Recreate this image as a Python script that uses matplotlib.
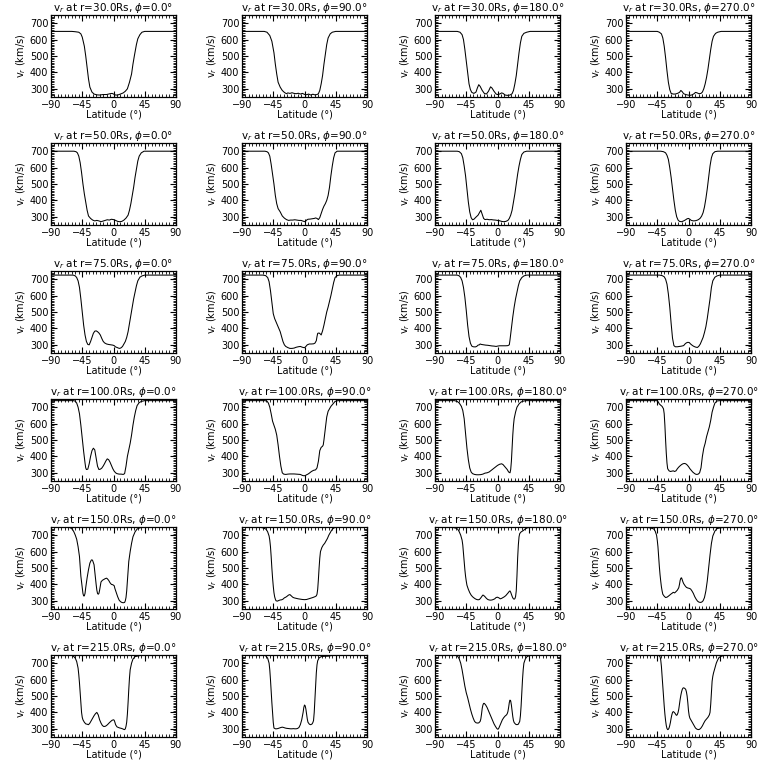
import matplotlib
matplotlib.use("Agg")
import matplotlib.pyplot as plt
from matplotlib.ticker import MultipleLocator

radii = [30.0, 50.0, 75.0, 100.0, 150.0, 215.0]
phis = [0.0, 90.0, 180.0, 270.0]

# r = 30 Rs
lat_30_0 = [-90, -60, -55, -50, -47, -45, -42, -40, -38, -36, -34, -31, -28, -24, -20, -15, -10, -5, -2, 0, 3, 6, 10, 14, 17, 20, 23, 26, 28, 30, 33, 35, 38, 41, 45, 60, 90]
v_30_0 = [650, 650, 648, 645, 635, 615, 560, 500, 430, 360, 310, 280, 268, 263, 262, 265, 265, 270, 272, 268, 262, 262, 268, 275, 285, 300, 340, 390, 450, 500, 570, 605, 630, 645, 650, 650, 650]
lat_30_90 = [-90, -58, -54, -50, -47, -44, -42, -40, -38, -35, -32, -29, -26, -24, -21, -18, -15, -12, -9, -6, -3, 0, 3, 6, 9, 12, 15, 18, 20, 22, 24, 26, 28, 30, 32, 34, 37, 40, 45, 90]
v_30_90 = [650, 650, 645, 625, 590, 520, 450, 390, 340, 310, 290, 278, 270, 275, 272, 276, 272, 270, 273, 268, 272, 266, 264, 268, 262, 267, 263, 265, 270, 290, 330, 380, 450, 510, 570, 610, 635, 645, 650, 650]
lat_30_180 = [-90, -58, -54, -51, -49, -47, -45, -43, -41, -39, -37, -34, -31, -29, -27, -25, -22, -19, -16, -13, -10, -8, -5, -2, 0, 3, 6, 8, 11, 14, 18, 21, 23, 25, 27, 29, 31, 33, 35, 38, 42, 47, 90]
v_30_180 = [650, 650, 645, 630, 600, 540, 470, 400, 330, 295, 278, 272, 280, 305, 325, 315, 290, 272, 268, 285, 312, 305, 285, 268, 265, 268, 275, 272, 262, 260, 262, 270, 290, 330, 380, 450, 520, 580, 620, 638, 645, 650, 650]
lat_30_270 = [-90, -45, -42, -39, -37, -35, -33, -31, -29, -27, -25, -22, -19, -16, -13, -11, -9, -7, -4, -1, 2, 5, 8, 10, 12, 15, 18, 20, 22, 24, 26, 28, 30, 32, 34, 36, 39, 42, 47, 90]
v_30_270 = [650, 650, 645, 635, 610, 560, 490, 410, 340, 295, 272, 268, 268, 272, 278, 290, 282, 270, 265, 262, 260, 263, 270, 278, 276, 270, 272, 280, 300, 330, 370, 420, 480, 540, 590, 620, 638, 645, 650, 650]

# r = 50 Rs
lat_50_0 = [-90, -57, -54, -52, -50, -48, -46, -44, -42, -40, -38, -36, -33, -30, -27, -24, -21, -18, -15, -12, -9, -6, -3, 0, 3, 6, 9, 12, 15, 18, 21, 23, 25, 27, 29, 31, 33, 35, 37, 40, 44, 90]
v_50_0 = [700, 700, 697, 690, 670, 630, 570, 500, 440, 390, 340, 305, 290, 280, 275, 278, 275, 270, 274, 278, 282, 280, 285, 283, 278, 272, 270, 272, 280, 292, 310, 340, 380, 430, 480, 540, 590, 640, 670, 690, 700, 700]
lat_50_90 = [-90, -57, -54, -52, -50, -48, -46, -44, -42, -40, -38, -35, -32, -29, -26, -23, -20, -17, -14, -11, -8, -5, -3, -1, 1, 3, 5, 8, 11, 14, 16, 18, 20, 22, 24, 26, 28, 30, 32, 34, 36, 38, 40, 42, 44, 47, 90]
v_50_90 = [700, 700, 697, 690, 670, 620, 560, 500, 430, 380, 350, 330, 305, 292, 283, 278, 280, 280, 282, 280, 278, 278, 275, 272, 270, 280, 285, 286, 288, 290, 293, 290, 283, 295, 320, 345, 365, 380, 400, 430, 480, 550, 610, 660, 690, 700, 700]
lat_50_180 = [-90, -58, -55, -52, -50, -48, -46, -44, -42, -40, -38, -36, -34, -31, -28, -26, -24, -22, -20, -18, -15, -12, -9, -6, -3, 0, 3, 6, 9, 12, 15, 17, 19, 21, 23, 25, 27, 29, 31, 33, 35, 38, 42, 90]
v_50_180 = [700, 700, 697, 685, 660, 610, 550, 470, 390, 330, 295, 282, 285, 298, 310, 325, 340, 315, 290, 283, 285, 282, 283, 281, 280, 278, 276, 272, 270, 272, 278, 290, 310, 340, 390, 440, 500, 560, 610, 650, 680, 695, 700, 700]
lat_50_270 = [-90, -40, -36, -33, -31, -29, -27, -25, -23, -21, -19, -17, -15, -13, -10, -7, -4, -2, 0, 2, 4, 7, 10, 13, 15, 17, 19, 21, 23, 25, 27, 29, 31, 33, 35, 38, 42, 90]
v_50_270 = [700, 700, 697, 690, 675, 650, 600, 540, 470, 400, 340, 300, 280, 272, 270, 275, 282, 288, 290, 285, 278, 275, 276, 280, 285, 292, 305, 325, 360, 410, 470, 540, 610, 660, 685, 697, 700, 700]

# r = 75 Rs
lat_75_0 = [-90, -58, -55, -53, -51, -49, -47, -45, -43, -41, -39, -37, -35, -33, -31, -29, -27, -25, -23, -21, -19, -17, -15, -13, -10, -7, -4, -1, 1, 3, 5, 7, 9, 11, 13, 15, 17, 19, 21, 23, 25, 27, 29, 31, 33, 35, 38, 41, 45, 90]
v_75_0 = [725, 725, 720, 710, 690, 650, 580, 500, 420, 360, 320, 302, 300, 320, 345, 370, 383, 385, 380, 372, 360, 340, 322, 312, 305, 302, 300, 298, 295, 287, 284, 280, 278, 282, 290, 305, 320, 345, 380, 430, 480, 530, 580, 620, 660, 690, 712, 720, 725, 725]
lat_75_90 = [-90, -60, -56, -53, -51, -49, -47, -45, -43, -41, -39, -37, -35, -33, -31, -29, -27, -24, -21, -18, -15, -12, -9, -6, -3, 0, 2, 4, 7, 10, 13, 15, 17, 18, 19, 21, 23, 24, 26, 28, 30, 32, 34, 36, 38, 40, 42, 44, 47, 50, 90]
v_75_90 = [725, 725, 722, 710, 685, 630, 560, 490, 460, 440, 420, 400, 380, 350, 320, 300, 290, 283, 278, 278, 280, 285, 288, 290, 285, 282, 290, 300, 305, 305, 306, 310, 325, 350, 370, 372, 365, 360, 385, 420, 460, 500, 530, 565, 600, 640, 680, 710, 722, 725, 725]
lat_75_180 = [-90, -58, -55, -53, -51, -49, -47, -45, -43, -41, -39, -37, -35, -32, -30, -28, -26, -25, -23, -20, -17, -14, -11, -8, -5, -2, 0, 3, 6, 9, 12, 15, 17, 18, 20, 22, 24, 26, 28, 30, 32, 35, 38, 42, 90]
v_75_180 = [725, 725, 720, 710, 690, 650, 590, 510, 420, 350, 310, 292, 288, 287, 290, 298, 300, 305, 302, 300, 298, 297, 295, 293, 292, 290, 292, 294, 294, 294, 294, 295, 300, 330, 400, 470, 530, 580, 620, 660, 690, 710, 720, 725, 725]
lat_75_270 = [-90, -42, -38, -35, -33, -31, -29, -27, -25, -23, -21, -19, -16, -13, -10, -7, -5, -3, -1, 1, 3, 5, 7, 9, 11, 13, 15, 17, 19, 21, 23, 25, 27, 29, 31, 33, 35, 38, 41, 45, 90]
v_75_270 = [725, 725, 722, 715, 700, 670, 610, 530, 430, 340, 295, 288, 288, 290, 292, 295, 305, 312, 315, 314, 305, 298, 292, 288, 285, 284, 292, 305, 325, 345, 375, 410, 460, 520, 580, 650, 690, 712, 720, 725, 725]

# r = 100 Rs
lat_100_0 = [-90, -58, -55, -53, -51, -49, -47, -45, -43, -41, -40, -39, -37, -35, -33, -31, -29, -27, -25, -23, -21, -19, -17, -15, -13, -11, -9, -7, -5, -3, -1, 1, 3, 5, 8, 11, 14, 16, 18, 20, 22, 24, 26, 28, 30, 32, 34, 37, 40, 45, 90]
v_100_0 = [740, 740, 737, 725, 700, 660, 590, 510, 430, 360, 330, 320, 322, 355, 400, 435, 450, 440, 390, 340, 320, 322, 328, 340, 355, 372, 385, 380, 365, 345, 325, 310, 300, 295, 292, 292, 290, 295, 340, 400, 440, 480, 530, 590, 640, 680, 710, 728, 735, 740, 740]
lat_100_90 = [-90, -57, -54, -52, -50, -48, -46, -44, -42, -40, -38, -36, -34, -32, -30, -27, -24, -21, -18, -15, -12, -9, -6, -3, -1, 1, 3, 5, 7, 10, 13, 16, 18, 20, 22, 24, 26, 27, 28, 30, 32, 34, 36, 38, 41, 44, 48, 90]
v_100_90 = [740, 740, 737, 725, 700, 660, 615, 590, 565, 530, 470, 400, 340, 300, 292, 290, 292, 293, 293, 293, 292, 291, 290, 284, 282, 283, 288, 292, 298, 308, 315, 318, 330, 370, 435, 455, 462, 470, 500, 570, 640, 675, 690, 705, 720, 735, 740, 740]
lat_100_180 = [-90, -62, -58, -55, -52, -50, -48, -46, -44, -42, -40, -38, -36, -33, -30, -27, -24, -21, -18, -15, -12, -9, -6, -3, 0, 3, 6, 8, 10, 12, 14, 16, 18, 19, 20, 21, 22, 23, 24, 26, 28, 31, 34, 38, 42, 90]
v_100_180 = [740, 740, 735, 725, 705, 680, 630, 540, 450, 380, 330, 305, 295, 290, 288, 288, 289, 292, 298, 300, 305, 315, 325, 335, 345, 352, 355, 350, 340, 330, 320, 305, 300, 320, 370, 450, 530, 590, 630, 670, 700, 720, 732, 738, 740, 740]
lat_100_270 = [-90, -46, -44, -42, -40, -38, -36, -35, -34, -33, -32, -31, -30, -28, -26, -24, -22, -20, -18, -16, -14, -12, -10, -8, -6, -4, -2, 0, 2, 4, 6, 8, 10, 12, 14, 16, 18, 20, 22, 24, 26, 28, 30, 32, 34, 36, 38, 41, 45, 90]
v_100_270 = [740, 740, 735, 720, 712, 705, 690, 660, 590, 500, 420, 360, 325, 312, 308, 310, 312, 308, 312, 325, 335, 343, 350, 355, 357, 355, 348, 338, 325, 315, 305, 298, 292, 290, 292, 300, 330, 400, 450, 480, 520, 550, 580, 620, 670, 700, 725, 738, 740, 740]

# r = 150 Rs
lat_150_0 = [-90, -66, -62, -59, -57, -55, -53, -51, -49, -48, -47, -45, -44, -43, -42, -41, -40, -38, -36, -34, -32, -31, -30, -28, -27, -26, -25, -24, -23, -22, -21, -20, -19, -18, -16, -14, -12, -10, -9, -7, -5, -3, -1, 1, 2, 4, 6, 8, 10, 12, 14, 16, 17, 18, 19, 20, 21, 22, 24, 26, 28, 31, 34, 38, 43, 90]
v_150_0 = [750, 750, 745, 735, 720, 700, 675, 630, 570, 510, 450, 380, 345, 330, 330, 345, 380, 440, 490, 530, 548, 550, 545, 520, 480, 440, 400, 365, 345, 340, 345, 365, 390, 415, 425, 430, 435, 438, 435, 425, 410, 400, 398, 392, 375, 350, 325, 305, 295, 290, 288, 290, 300, 320, 360, 420, 480, 540, 600, 650, 690, 720, 738, 745, 750, 750]
lat_150_90 = [-90, -66, -60, -57, -55, -53, -51, -50, -49, -48, -47, -46, -45, -44, -43, -42, -41, -39, -37, -35, -33, -31, -29, -27, -25, -23, -21, -19, -17, -15, -12, -9, -6, -3, 0, 3, 6, 9, 12, 15, 17, 18, 19, 20, 21, 22, 23, 25, 27, 29, 31, 33, 35, 37, 39, 41, 44, 48, 90]
v_150_90 = [750, 750, 745, 740, 735, 720, 695, 670, 630, 570, 500, 440, 390, 350, 325, 310, 300, 298, 302, 305, 306, 310, 318, 322, 328, 335, 338, 330, 322, 318, 315, 312, 310, 308, 307, 308, 312, 316, 320, 325, 330, 340, 370, 430, 500, 560, 600, 625, 640, 650, 665, 680, 700, 715, 730, 740, 748, 750, 750]
lat_150_180 = [-90, -66, -62, -59, -57, -55, -53, -51, -50, -49, -48, -47, -46, -45, -44, -42, -40, -38, -36, -34, -32, -30, -28, -26, -24, -22, -21, -20, -18, -16, -14, -12, -10, -8, -6, -4, -2, 0, 2, 4, 6, 8, 10, 12, 14, 16, 17, 18, 19, 20, 21, 22, 23, 24, 25, 26, 27, 28, 29, 30, 31, 32, 34, 37, 40, 43, 47, 52, 90]
v_150_180 = [750, 750, 745, 742, 735, 720, 700, 670, 640, 590, 540, 490, 450, 420, 395, 370, 350, 335, 325, 318, 312, 308, 306, 308, 318, 330, 335, 333, 325, 315, 308, 305, 304, 305, 308, 312, 320, 322, 318, 312, 315, 320, 325, 332, 342, 352, 358, 360, 352, 340, 328, 318, 312, 310, 313, 325, 360, 450, 560, 640, 690, 710, 720, 728, 738, 745, 748, 750, 750]
lat_150_270 = [-90, -62, -57, -53, -50, -48, -46, -45, -44, -43, -42, -41, -40, -39, -38, -37, -35, -33, -31, -29, -27, -25, -23, -22, -21, -20, -18, -16, -14, -13, -12, -11, -10, -9, -8, -7, -5, -3, -1, 1, 3, 5, 7, 9, 11, 13, 15, 17, 19, 21, 23, 25, 27, 29, 31, 33, 35, 38, 41, 46, 55, 90]
v_150_270 = [750, 750, 746, 742, 738, 725, 700, 670, 630, 570, 510, 460, 420, 385, 360, 340, 328, 320, 322, 328, 335, 342, 348, 352, 350, 348, 356, 365, 380, 400, 425, 438, 440, 428, 415, 405, 392, 382, 378, 376, 372, 360, 345, 325, 310, 298, 292, 290, 292, 300, 320, 360, 420, 500, 580, 650, 695, 725, 740, 745, 750, 750]

# r = 215 Rs
lat_215_0 = [-90, -62, -59, -57, -55, -53, -51, -50, -49, -48, -47, -46, -45, -44, -42, -40, -38, -36, -34, -32, -30, -28, -26, -24, -22, -21, -20, -18, -16, -14, -12, -10, -8, -6, -4, -2, 0, 1, 2, 3, 5, 7, 9, 11, 13, 15, 16, 17, 18, 19, 20, 21, 22, 23, 24, 26, 28, 31, 36, 42, 90]
v_215_0 = [750, 750, 746, 740, 730, 710, 670, 630, 580, 520, 460, 400, 370, 355, 340, 330, 328, 325, 335, 350, 365, 380, 392, 400, 385, 370, 355, 335, 320, 314, 315, 320, 328, 337, 345, 352, 355, 352, 340, 325, 312, 308, 305, 303, 300, 296, 295, 300, 315, 340, 390, 460, 540, 610, 660, 700, 725, 740, 745, 750, 750]
lat_215_90 = [-90, -62, -57, -55, -53, -51, -50, -49, -48, -47, -46, -45, -44, -42, -40, -38, -36, -34, -32, -30, -28, -26, -24, -22, -20, -18, -16, -14, -12, -10, -8, -6, -4, -2, -1, 0, 1, 2, 3, 4, 5, 7, 9, 11, 12, 13, 14, 15, 16, 17, 18, 19, 21, 24, 28, 34, 38, 42, 90]
v_215_90 = [750, 750, 747, 742, 730, 700, 660, 600, 530, 460, 400, 340, 305, 300, 300, 302, 305, 308, 310, 308, 305, 303, 302, 301, 300, 300, 301, 300, 300, 302, 308, 325, 355, 400, 430, 445, 440, 420, 390, 360, 340, 328, 325, 330, 338, 350, 400, 480, 560, 640, 690, 715, 732, 740, 742, 743, 746, 750, 750]
lat_215_180 = [-90, -62, -59, -57, -55, -53, -51, -49, -47, -45, -43, -41, -39, -37, -35, -33, -31, -29, -27, -25, -24, -23, -22, -21, -20, -19, -17, -15, -13, -11, -9, -7, -5, -3, -1, 0, 1, 2, 3, 5, 7, 9, 11, 13, 14, 15, 16, 17, 18, 19, 20, 21, 22, 23, 24, 26, 28, 30, 32, 33, 34, 35, 36, 37, 38, 40, 42, 45, 50, 90]
v_215_180 = [750, 750, 748, 740, 725, 700, 660, 610, 560, 520, 490, 455, 420, 390, 365, 345, 337, 335, 336, 345, 360, 390, 425, 445, 455, 455, 445, 430, 410, 390, 370, 350, 330, 315, 302, 298, 298, 305, 315, 335, 355, 368, 378, 385, 392, 405, 430, 460, 475, 470, 445, 410, 375, 350, 338, 328, 325, 328, 345, 380, 440, 520, 600, 660, 700, 725, 738, 745, 750, 750]
lat_215_270 = [-90, -46, -43, -41, -40, -39, -38, -37, -36, -35, -34, -33, -32, -31, -30, -29, -28, -27, -26, -25, -24, -23, -22, -21, -20, -19, -18, -17, -16, -15, -14, -13, -12, -11, -10, -9, -8, -7, -6, -5, -4, -3, -2, -1, 0, 1, 2, 4, 6, 8, 10, 12, 14, 16, 18, 20, 22, 24, 26, 28, 30, 31, 32, 33, 34, 35, 36, 38, 40, 42, 44, 47, 51, 56, 90]
v_215_270 = [750, 750, 748, 740, 720, 680, 620, 560, 500, 440, 390, 350, 320, 302, 295, 297, 305, 320, 340, 365, 385, 400, 405, 402, 398, 392, 385, 382, 388, 400, 420, 450, 480, 505, 525, 540, 548, 550, 548, 545, 540, 525, 500, 460, 410, 380, 365, 350, 335, 320, 305, 298, 295, 297, 305, 318, 335, 350, 360, 370, 385, 400, 450, 520, 590, 620, 640, 670, 700, 720, 735, 742, 747, 750, 750]

lats = [
    [lat_30_0, lat_30_90, lat_30_180, lat_30_270],
    [lat_50_0, lat_50_90, lat_50_180, lat_50_270],
    [lat_75_0, lat_75_90, lat_75_180, lat_75_270],
    [lat_100_0, lat_100_90, lat_100_180, lat_100_270],
    [lat_150_0, lat_150_90, lat_150_180, lat_150_270],
    [lat_215_0, lat_215_90, lat_215_180, lat_215_270],
]
vels = [
    [v_30_0, v_30_90, v_30_180, v_30_270],
    [v_50_0, v_50_90, v_50_180, v_50_270],
    [v_75_0, v_75_90, v_75_180, v_75_270],
    [v_100_0, v_100_90, v_100_180, v_100_270],
    [v_150_0, v_150_90, v_150_180, v_150_270],
    [v_215_0, v_215_90, v_215_180, v_215_270],
]

W = 768.0
col_left = [51, 242, 435, 626]   # pixels
row_top = 15
row_gap = 128
ax_w = 125
ax_h = 82

fig = plt.figure(figsize=(7.68, 7.68), dpi=100)
fs = 7

for i in range(len(radii)):
    for j in range(len(phis)):
        top = row_top + i * row_gap
        ax = fig.add_axes([col_left[j] / W, 1 - (top + ax_h) / W, ax_w / W, ax_h / W])
        ax.plot(lats[i][j], vels[i][j], color='black', lw=0.75)
        ax.set_xlim(-90, 90)
        ax.set_ylim(250, 750)
        ax.set_xticks([-90, -45, 0, 45, 90])
        ax.set_yticks([300, 400, 500, 600, 700])
        ax.xaxis.set_minor_locator(MultipleLocator(5))
        ax.yaxis.set_minor_locator(MultipleLocator(10))
        ax.tick_params(which='both', direction='in', top=True, right=True, labelsize=fs, pad=2)
        ax.tick_params(which='major', length=4, width=0.8)
        ax.tick_params(which='minor', length=2, width=0.6)
        for s in ax.spines.values():
            s.set_linewidth(0.9)
        ax.set_title(r'v$_r$ at r=%.1fRs, $\phi$=%.1f°' % (radii[i], phis[j]), fontsize=fs + 0.5, pad=2)
        ax.set_xlabel('Latitude (°)', fontsize=fs, labelpad=0)
        ax.set_ylabel(r'v$_r$ (km/s)', fontsize=fs, labelpad=1)

plt.savefig('out.png', dpi=100)
